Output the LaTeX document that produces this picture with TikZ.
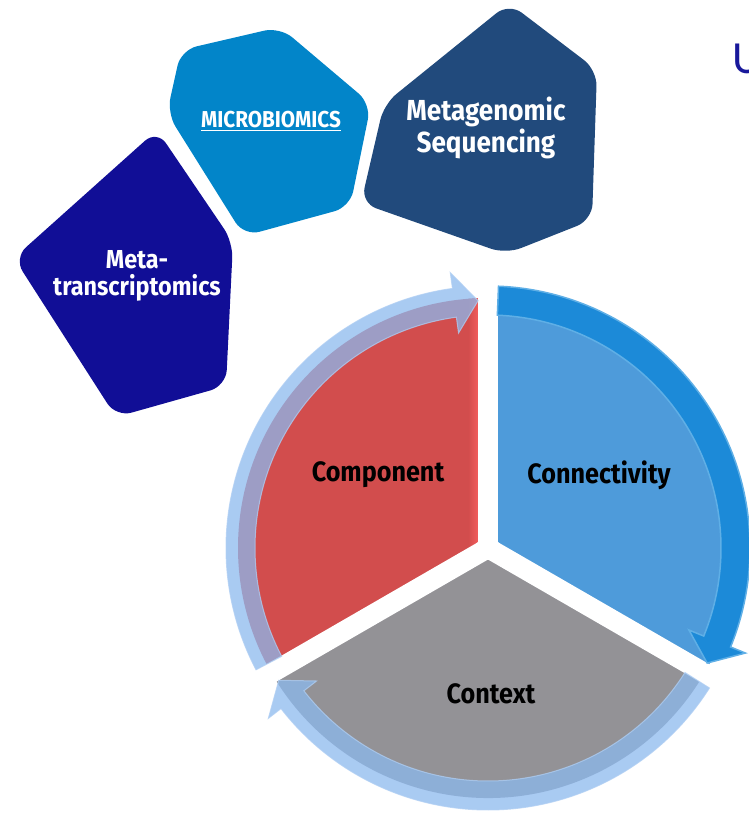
\documentclass[tikz,border=0pt]{standalone}
\usepackage{fontspec}
\setsansfont{Fira Sans}[FakeStretch=0.9]
\newfontfamily\headfont{Carlito}
\usepackage{xcolor}
\usetikzlibrary{calc}

\definecolor{metatrans}{RGB}{17,14,150}
\definecolor{microbio}{RGB}{2,133,201}
\definecolor{metagen}{RGB}{33,74,124}
\definecolor{compred}{RGB}{210,77,77}
\definecolor{compedge}{RGB}{242,92,92}
\definecolor{connblue}{RGB}{78,155,218}
\definecolor{contgrey}{RGB}{147,146,150}
\definecolor{ringlight}{RGB}{140,185,238}
\definecolor{ringdark}{RGB}{28,138,216}
\definecolor{ringedge}{RGB}{95,175,230}
\definecolor{titleblue}{RGB}{25,25,155}

\tikzset{
  tile/.style={rounded corners=16pt},
  tiletext/.style={text=white,align=center},
  slicetext/.style={text=black,font=\sffamily\bfseries\fontsize{28}{30}\selectfont},
  gap/.style={white,line width=20pt},
}
% clockwise ring arrow from angle #2 to its tip at angle #3
\def\ringarrow[#1](#2:#3){\filldraw[#1] (#2:233) arc[start angle=#2,end angle={#3+5.5},radius=233]
    -- ({#3+5.5}:217) -- (#3:247.5) -- ({#3+5.5}:278)
    -- ({#3+5.5}:262) arc[start angle={#3+5.5},end angle=#2,radius=262] -- cycle}

\begin{document}
\begin{tikzpicture}[x=1pt,y=-1pt]
    \useasboundingbox (0,0) rectangle (748,817);
    % omics tiles
    \fill[metatrans,tile] (157,130) -- (233,242) -- (226,386) -- (116,417) -- (14,258) -- cycle;
    \fill[microbio,tile] (181,50) -- (280,27) -- (371,104) -- (350,207) -- (244,236) -- (167,113) -- cycle;
    \fill[metagen,tile] (509,3) -- (597,70) -- (592,220) -- (506,254) -- (361,203) -- (384,104) -- cycle;
    \node[tiletext,font=\sffamily\bfseries\fontsize{26}{27}\selectfont] (metatrans) at (137,276) {Meta-\\transcriptomics};
    \node[tiletext,font=\sffamily\bfseries\fontsize{23}{25}\selectfont] (microbio) at (271,121) {\underline{MICROBIOMICS}};
    \node[tiletext,font=\sffamily\bfseries\fontsize{29}{32}\selectfont] (metagen) at (486,128) {Metagenomic\\Sequencing};
    \node[anchor=base west,text=titleblue,font=\headfont\fontsize{46}{48}\selectfont] (title) at (729,73) {U};
    % pie with its ring arrows
    \begin{scope}[shift={(488,548)},yscale=-1]
        \fill[compred] (0,0) -- (90:250) arc[start angle=90,end angle=210,radius=250] -- cycle;
        \begin{scope}
            \clip (0,0) -- (90:250) arc[start angle=90,end angle=210,radius=250] -- cycle;
            \shade[left color=compred,right color=compedge] (-20,0) rectangle (-10,260);
        \end{scope}
        \fill[connblue] (0,0) -- (-30:250) arc[start angle=-30,end angle=90,radius=250] -- cycle;
        \fill[contgrey] (0,0) -- (210:250) arc[start angle=210,end angle=330,radius=250] -- cycle;
        \foreach \a in {90,210,330} \draw[gap] (0,0) -- (\a:268);
        \fill[white] (0,0) circle (12);
        \ringarrow[ringlight,draw=ringlight!70!white,line width=1pt,opacity=.75](207.7:92.3);
        \ringarrow[ringdark,draw=ringedge,line width=1.5pt](87.7:-27.7);
        \ringarrow[ringlight,draw=ringlight!70!white,line width=1pt,opacity=.75](327.7:212.3);
    \end{scope}
    \node[slicetext] (component) at (378,475) {Component};
    \node[slicetext] (connectivity) at (599,475) {Connectivity};
    \node[slicetext] (context) at (491,694) {Context};
\end{tikzpicture}
\end{document}
